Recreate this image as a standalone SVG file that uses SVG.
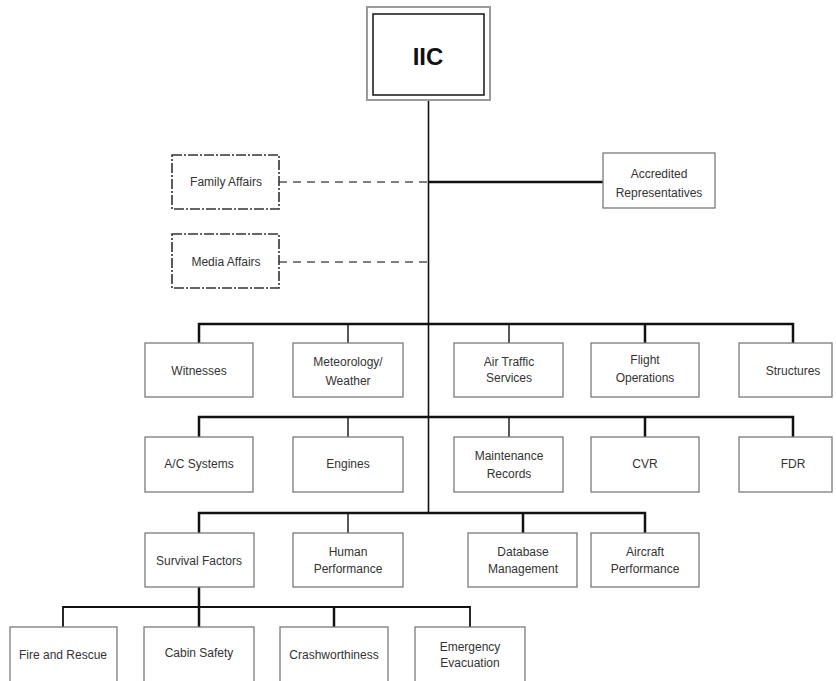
<svg xmlns="http://www.w3.org/2000/svg" width="836" height="681" viewBox="0 0 836 681">
<style>
.box{fill:#fff;stroke:#7a7a7a;stroke-width:1.3}
.dbox{fill:#fff;stroke:#333;stroke-width:1.6;stroke-dasharray:10 2 2 2}
.t{font-family:"Liberation Sans",Arial,sans-serif;font-size:12px;fill:#333;text-anchor:middle}
.big{font-family:"Liberation Sans",Arial,sans-serif;font-size:24px;font-weight:bold;fill:#111;text-anchor:middle}
.c{stroke:#111;fill:none}
.bus{stroke-width:2.5}
.thin{stroke-width:1.4}
.thk{stroke-width:2.5}
.dash{stroke:#555;stroke-width:1.6;stroke-dasharray:8 6;fill:none}
</style>
<rect width="836" height="681" fill="#fff"/>
<g id="connectors">
<line class="c" stroke-width="1.6" x1="428.5" y1="100" x2="428.5" y2="513"/>
<line class="c bus" x1="428" y1="182" x2="603" y2="182"/>
<line class="dash" x1="279" y1="182" x2="428" y2="182"/>
<line class="dash" x1="279" y1="262" x2="428" y2="262"/>
<polyline class="c bus" points="199,343 199,324 793,324 793,343"/>
<line class="c thin" x1="348" y1="324" x2="348" y2="343"/>
<line class="c thin" x1="509" y1="324" x2="509" y2="343"/>
<line class="c thk" x1="645" y1="324" x2="645" y2="343"/>
<polyline class="c bus" points="199,437 199,417 793,417 793,437"/>
<line class="c thin" x1="348" y1="417" x2="348" y2="437"/>
<line class="c thin" x1="509" y1="417" x2="509" y2="437"/>
<line class="c thk" x1="645" y1="417" x2="645" y2="437"/>
<polyline class="c bus" points="199,533 199,513 645,513 645,533"/>
<line class="c thin" x1="348" y1="513" x2="348" y2="533"/>
<line class="c thk" x1="523" y1="513" x2="523" y2="533"/>
<line class="c thk" x1="199" y1="587" x2="199" y2="627"/>
<polyline class="c" stroke-width="1.8" points="63,627 63,607 470,607 470,627"/>
<line class="c thk" x1="334" y1="607" x2="334" y2="627"/>
</g>
<g id="iic">
<rect x="367" y="7" width="123" height="93" fill="#fff" stroke="#9a9a9a" stroke-width="2"/>
<rect x="373" y="14" width="111" height="81" fill="#fff" stroke="#222" stroke-width="1.6"/>
<text class="big" x="428" y="65">IIC</text>
</g>
<g id="family-affairs">
<rect class="dbox" x="172" y="155" width="107" height="54"/>
<text class="t" x="226" y="186">Family Affairs</text>
</g>
<g id="media-affairs">
<rect class="dbox" x="172" y="234" width="107" height="54"/>
<text class="t" x="226" y="266">Media Affairs</text>
</g>
<g id="accredited">
<rect class="box" x="603" y="153" width="112" height="55"/>
<text class="t" x="659" y="178">Accredited</text>
<text class="t" x="659" y="197">Representatives</text>
</g>
<g id="witnesses"><rect class="box" x="145" y="343" width="108" height="54"/><text class="t" x="199" y="375">Witnesses</text></g>
<g id="meteorology"><rect class="box" x="293" y="343" width="110" height="54"/><text class="t" x="348" y="366">Meteorology/</text><text class="t" x="348" y="385">Weather</text></g>
<g id="air-traffic"><rect class="box" x="454" y="343" width="109" height="54"/><text class="t" x="509" y="366">Air Traffic</text><text class="t" x="509" y="382">Services</text></g>
<g id="flight-ops"><rect class="box" x="591" y="343" width="108" height="54"/><text class="t" x="645" y="364">Flight</text><text class="t" x="645" y="382">Operations</text></g>
<g id="structures"><rect class="box" x="739" y="343" width="93" height="54"/><text class="t" x="793" y="375">Structures</text></g>
<g id="ac-systems"><rect class="box" x="145" y="437" width="108" height="55"/><text class="t" x="199" y="468">A/C Systems</text></g>
<g id="engines"><rect class="box" x="293" y="437" width="110" height="55"/><text class="t" x="348" y="468">Engines</text></g>
<g id="maintenance"><rect class="box" x="454" y="437" width="109" height="55"/><text class="t" x="509" y="460">Maintenance</text><text class="t" x="509" y="478">Records</text></g>
<g id="cvr"><rect class="box" x="591" y="437" width="108" height="55"/><text class="t" x="645" y="468">CVR</text></g>
<g id="fdr"><rect class="box" x="739" y="437" width="93" height="55"/><text class="t" x="793" y="468">FDR</text></g>
<g id="survival"><rect class="box" x="145" y="533" width="109" height="54"/><text class="t" x="199" y="565">Survival Factors</text></g>
<g id="human"><rect class="box" x="293" y="533" width="110" height="54"/><text class="t" x="348" y="556">Human</text><text class="t" x="348" y="573">Performance</text></g>
<g id="database"><rect class="box" x="468" y="533" width="109" height="54"/><text class="t" x="523" y="556">Database</text><text class="t" x="523" y="573">Management</text></g>
<g id="aircraft-perf"><rect class="box" x="591" y="533" width="108" height="54"/><text class="t" x="645" y="556">Aircraft</text><text class="t" x="645" y="573">Performance</text></g>
<g id="fire-rescue"><rect class="box" x="10" y="627" width="107" height="60"/><text class="t" x="63" y="659">Fire and Rescue</text></g>
<g id="cabin-safety"><rect class="box" x="144" y="627" width="110" height="60"/><text class="t" x="199" y="657">Cabin Safety</text></g>
<g id="crashworthiness"><rect class="box" x="280" y="627" width="108" height="60"/><text class="t" x="334" y="659">Crashworthiness</text></g>
<g id="emergency"><rect class="box" x="415" y="627" width="110" height="60"/><text class="t" x="470" y="651">Emergency</text><text class="t" x="470" y="667">Evacuation</text></g>
</svg>
